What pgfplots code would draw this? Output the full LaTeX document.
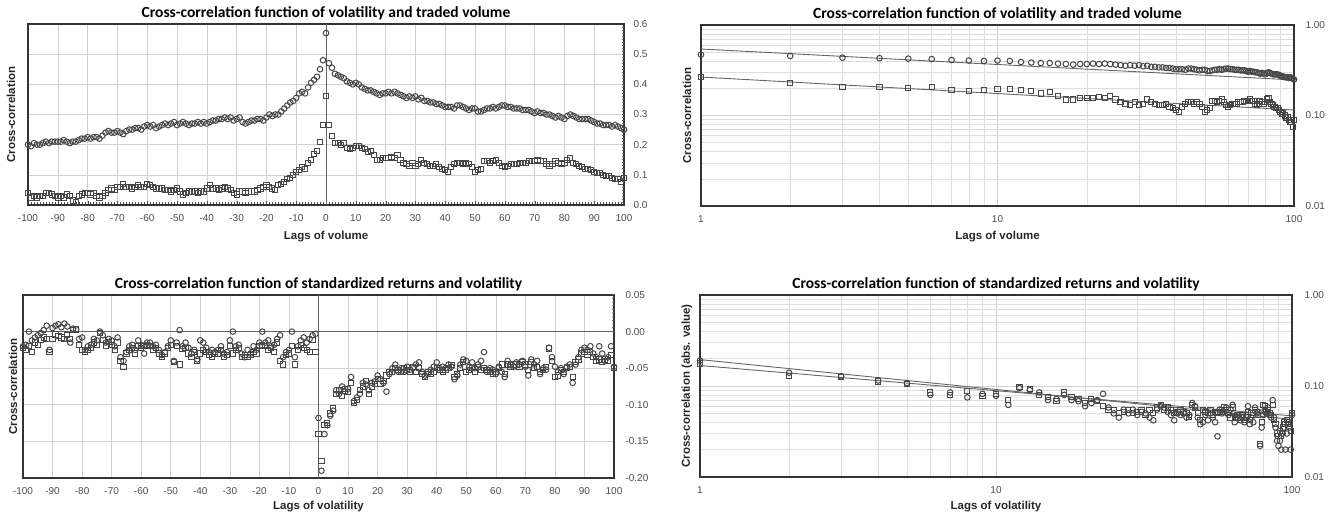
\documentclass[border=0pt]{standalone}
\usepackage{pgfplots}
\pgfplotsset{compat=1.18}
\usepackage{pgfplotstable}
\usepackage{fontspec}
\setmainfont{Liberation Sans}
\newfontfamily\titlefont{Carlito}

% volatility vs traded volume: lag, circles, squares
\pgfplotstableread[row sep=\\]{
lag c s\\
-100 0.200 0.040\\ -99 0.195 0.025\\ -98 0.205 0.030\\ -97 0.200 0.025\\ -96 0.200 0.030\\
-95 0.205 0.030\\ -94 0.210 0.040\\ -93 0.205 0.040\\ -92 0.210 0.035\\ -91 0.210 0.030\\
-90 0.210 0.025\\ -89 0.210 0.030\\ -88 0.215 0.025\\ -87 0.210 0.035\\ -86 0.205 0.030\\
-85 0.210 0.015\\ -84 0.210 0.010\\ -83 0.215 0.030\\ -82 0.220 0.035\\ -81 0.220 0.040\\
-80 0.225 0.040\\ -79 0.220 0.035\\ -78 0.225 0.040\\ -77 0.225 0.030\\ -76 0.220 0.025\\
-75 0.230 0.030\\ -74 0.240 0.040\\ -73 0.245 0.050\\ -72 0.240 0.055\\ -71 0.240 0.050\\
-70 0.245 0.060\\ -69 0.240 0.060\\ -68 0.235 0.070\\ -67 0.245 0.060\\ -66 0.250 0.060\\
-65 0.250 0.055\\ -64 0.255 0.060\\ -63 0.255 0.065\\ -62 0.250 0.060\\ -61 0.260 0.060\\
-60 0.265 0.070\\ -59 0.260 0.065\\ -58 0.265 0.060\\ -57 0.255 0.055\\ -56 0.260 0.055\\
-55 0.265 0.055\\ -54 0.270 0.050\\ -53 0.265 0.050\\ -52 0.270 0.045\\ -51 0.275 0.050\\
-50 0.265 0.055\\ -49 0.270 0.045\\ -48 0.275 0.035\\ -47 0.270 0.040\\ -46 0.265 0.045\\
-45 0.270 0.045\\ -44 0.270 0.045\\ -43 0.275 0.040\\ -42 0.270 0.045\\ -41 0.275 0.045\\
-40 0.270 0.055\\ -39 0.275 0.065\\ -38 0.280 0.055\\ -37 0.280 0.055\\ -36 0.285 0.050\\
-35 0.285 0.055\\ -34 0.290 0.060\\ -33 0.285 0.055\\ -32 0.290 0.050\\ -31 0.280 0.040\\
-30 0.285 0.035\\ -29 0.290 0.045\\ -28 0.275 0.045\\ -27 0.270 0.040\\ -26 0.275 0.045\\
-25 0.280 0.045\\ -24 0.280 0.045\\ -23 0.285 0.050\\ -22 0.285 0.055\\ -21 0.280 0.060\\
-20 0.290 0.065\\ -19 0.300 0.060\\ -18 0.295 0.055\\ -17 0.300 0.050\\ -16 0.300 0.065\\
-15 0.310 0.070\\ -14 0.320 0.075\\ -13 0.330 0.085\\ -12 0.340 0.090\\ -11 0.345 0.100\\
-10 0.355 0.110\\ -9 0.370 0.115\\ -8 0.375 0.125\\ -7 0.370 0.120\\ -6 0.390 0.140\\
-5 0.405 0.150\\ -4 0.415 0.170\\ -3 0.425 0.180\\ -2 0.450 0.210\\ -1 0.480 0.265\\
0 0.570 0.360\\
1 0.470 0.265\\ 2 0.455 0.230\\ 3 0.435 0.205\\ 4 0.430 0.205\\ 5 0.425 0.200\\
6 0.420 0.205\\ 7 0.410 0.190\\ 8 0.405 0.185\\ 9 0.400 0.190\\ 10 0.405 0.195\\
11 0.400 0.195\\ 12 0.390 0.190\\ 13 0.385 0.185\\ 14 0.380 0.175\\ 15 0.380 0.180\\
16 0.375 0.165\\ 17 0.370 0.150\\ 18 0.365 0.150\\ 19 0.370 0.155\\ 20 0.370 0.155\\
21 0.375 0.155\\ 22 0.370 0.160\\ 23 0.375 0.155\\ 24 0.370 0.165\\ 25 0.365 0.150\\
26 0.360 0.140\\ 27 0.355 0.135\\ 28 0.360 0.130\\ 29 0.355 0.140\\ 30 0.360 0.130\\
31 0.350 0.135\\ 32 0.355 0.150\\ 33 0.345 0.140\\ 34 0.345 0.135\\ 35 0.340 0.130\\
36 0.340 0.130\\ 37 0.335 0.135\\ 38 0.335 0.125\\ 39 0.330 0.120\\ 40 0.325 0.115\\
41 0.325 0.110\\ 42 0.325 0.125\\ 43 0.320 0.135\\ 44 0.330 0.140\\ 45 0.330 0.140\\
46 0.325 0.135\\ 47 0.320 0.140\\ 48 0.315 0.135\\ 49 0.320 0.125\\ 50 0.320 0.110\\
51 0.310 0.115\\ 52 0.310 0.120\\ 53 0.315 0.145\\ 54 0.320 0.145\\ 55 0.320 0.140\\
56 0.325 0.145\\ 57 0.320 0.150\\ 58 0.325 0.140\\ 59 0.330 0.130\\ 60 0.330 0.125\\
61 0.325 0.130\\ 62 0.325 0.135\\ 63 0.320 0.135\\ 64 0.320 0.135\\ 65 0.320 0.140\\
66 0.315 0.140\\ 67 0.315 0.140\\ 68 0.315 0.145\\ 69 0.310 0.145\\ 70 0.305 0.145\\
71 0.310 0.150\\ 72 0.305 0.145\\ 73 0.305 0.145\\ 74 0.300 0.135\\ 75 0.300 0.130\\
76 0.295 0.135\\ 77 0.290 0.145\\ 78 0.295 0.140\\ 79 0.290 0.135\\ 80 0.285 0.140\\
81 0.295 0.150\\ 82 0.300 0.155\\ 83 0.295 0.140\\ 84 0.290 0.135\\ 85 0.285 0.130\\
86 0.285 0.125\\ 87 0.285 0.120\\ 88 0.285 0.120\\ 89 0.280 0.115\\ 90 0.275 0.110\\
91 0.270 0.105\\ 92 0.270 0.105\\ 93 0.265 0.100\\ 94 0.265 0.095\\ 95 0.265 0.095\\
96 0.260 0.090\\ 97 0.265 0.085\\ 98 0.260 0.085\\ 99 0.255 0.075\\ 100 0.250 0.090\\
}\volA

% standardized returns vs volatility: lag, circles, squares
\pgfplotstableread[row sep=\\]{
lag c s\\
-100 -0.020 -0.022\\ -99 -0.018 -0.025\\ -98 0.000 -0.020\\ -97 -0.012 -0.028\\ -96 -0.008 -0.015\\
-95 -0.005 -0.018\\ -94 -0.002 -0.012\\ -93 0.002 -0.008\\ -92 0.008 -0.010\\ -91 -0.025 -0.028\\
-90 0.005 -0.010\\ -89 0.008 -0.004\\ -88 0.010 -0.006\\ -87 0.006 -0.008\\ -86 0.011 -0.010\\
-85 0.007 -0.005\\ -84 -0.015 -0.010\\ -83 0.004 0.002\\ -82 0.003 0.003\\ -81 -0.010 -0.018\\
-80 -0.008 -0.025\\ -79 -0.025 -0.028\\ -78 -0.020 -0.025\\ -77 -0.018 -0.022\\ -76 -0.010 -0.015\\
-75 -0.012 -0.018\\ -74 0.000 -0.002\\ -73 -0.005 -0.012\\ -72 -0.015 -0.020\\ -71 -0.010 -0.014\\
-70 -0.012 -0.018\\ -69 -0.020 -0.025\\ -68 -0.008 -0.015\\ -67 -0.035 -0.040\\ -66 -0.040 -0.048\\
-65 -0.028 -0.030\\ -64 -0.020 -0.025\\ -63 -0.018 -0.022\\ -62 -0.025 -0.030\\ -61 -0.012 -0.020\\
-60 -0.018 -0.022\\ -59 -0.030 -0.020\\ -58 -0.015 -0.018\\ -57 -0.015 -0.020\\ -56 -0.020 -0.025\\
-55 -0.018 -0.022\\ -54 -0.025 -0.030\\ -53 -0.032 -0.035\\ -52 -0.028 -0.030\\ -51 -0.020 -0.022\\
-50 -0.012 -0.018\\ -49 -0.040 -0.042\\ -48 -0.015 -0.020\\ -47 0.002 -0.045\\ -46 -0.020 -0.024\\
-45 -0.015 -0.022\\ -44 -0.022 -0.030\\ -43 -0.030 -0.035\\ -42 -0.025 -0.028\\ -41 -0.038 -0.040\\
-40 -0.012 -0.030\\ -39 -0.015 -0.025\\ -38 -0.022 -0.028\\ -37 -0.028 -0.032\\ -36 -0.025 -0.035\\
-35 -0.028 -0.030\\ -34 -0.025 -0.030\\ -33 -0.020 -0.025\\ -32 -0.030 -0.035\\ -31 -0.028 -0.032\\
-30 -0.012 -0.020\\ -29 0.000 -0.030\\ -28 -0.020 -0.025\\ -27 -0.018 -0.022\\ -26 -0.030 -0.035\\
-25 -0.035 -0.032\\ -24 -0.025 -0.035\\ -23 -0.030 -0.032\\ -22 -0.020 -0.028\\ -21 -0.025 -0.030\\
-20 -0.015 -0.020\\ -19 0.000 -0.018\\ -18 -0.015 -0.020\\ -17 -0.012 -0.025\\ -16 -0.020 -0.022\\
-15 -0.018 -0.028\\ -14 -0.010 -0.015\\ -13 -0.005 -0.040\\ -12 -0.035 -0.045\\ -11 -0.028 -0.032\\
-10 -0.025 -0.030\\ -9 0.000 -0.020\\ -8 -0.035 -0.045\\ -7 -0.020 -0.025\\ -6 -0.012 -0.018\\
-5 -0.008 -0.022\\ -4 -0.015 -0.025\\ -3 -0.010 -0.028\\ -2 -0.005 -0.012\\ -1 -0.003 -0.028\\
0 -0.118 -0.140\\
1 -0.190 -0.177\\ 2 -0.140 -0.128\\ 3 -0.128 -0.125\\ 4 -0.115 -0.112\\ 5 -0.108 -0.105\\
6 -0.080 -0.085\\ 7 -0.085 -0.080\\ 8 -0.075 -0.088\\ 9 -0.082 -0.078\\ 10 -0.078 -0.082\\
11 -0.062 -0.070\\ 12 -0.095 -0.098\\ 13 -0.090 -0.093\\ 14 -0.085 -0.080\\ 15 -0.070 -0.075\\
16 -0.072 -0.068\\ 17 -0.080 -0.085\\ 18 -0.070 -0.075\\ 19 -0.068 -0.072\\ 20 -0.060 -0.065\\
21 -0.065 -0.072\\ 22 -0.070 -0.068\\ 23 -0.082 -0.060\\ 24 -0.058 -0.055\\ 25 -0.050 -0.055\\
26 -0.045 -0.050\\ 27 -0.055 -0.052\\ 28 -0.050 -0.055\\ 29 -0.055 -0.050\\ 30 -0.048 -0.052\\
31 -0.052 -0.055\\ 32 -0.050 -0.048\\ 33 -0.045 -0.055\\ 34 -0.042 -0.050\\ 35 -0.055 -0.058\\
36 -0.060 -0.062\\ 37 -0.058 -0.055\\ 38 -0.052 -0.058\\ 39 -0.048 -0.055\\ 40 -0.042 -0.050\\
41 -0.050 -0.052\\ 42 -0.048 -0.055\\ 43 -0.050 -0.052\\ 44 -0.045 -0.050\\ 45 -0.048 -0.046\\
46 -0.065 -0.062\\ 47 -0.060 -0.058\\ 48 -0.045 -0.050\\ 49 -0.038 -0.042\\ 50 -0.040 -0.055\\
51 -0.048 -0.052\\ 52 -0.042 -0.050\\ 53 -0.050 -0.055\\ 54 -0.045 -0.048\\ 55 -0.040 -0.052\\
56 -0.028 -0.050\\ 57 -0.055 -0.052\\ 58 -0.050 -0.055\\ 59 -0.052 -0.058\\ 60 -0.058 -0.055\\
61 -0.048 -0.050\\ 62 -0.055 -0.045\\ 63 -0.062 -0.058\\ 64 -0.040 -0.045\\ 65 -0.045 -0.048\\
66 -0.048 -0.045\\ 67 -0.042 -0.045\\ 68 -0.045 -0.048\\ 69 -0.040 -0.042\\ 70 -0.048 -0.045\\
71 -0.060 -0.052\\ 72 -0.038 -0.042\\ 73 -0.045 -0.050\\ 74 -0.040 -0.048\\ 75 -0.058 -0.055\\
76 -0.050 -0.052\\ 77 -0.052 -0.048\\ 78 -0.022 -0.023\\ 79 -0.035 -0.040\\ 80 -0.048 -0.062\\
81 -0.055 -0.060\\ 82 -0.050 -0.052\\ 83 -0.058 -0.055\\ 84 -0.048 -0.050\\ 85 -0.045 -0.048\\
86 -0.070 -0.062\\ 87 -0.045 -0.042\\ 88 -0.035 -0.038\\ 89 -0.025 -0.030\\ 90 -0.022 -0.028\\
91 -0.025 -0.032\\ 92 -0.020 -0.028\\ 93 -0.030 -0.035\\ 94 -0.035 -0.040\\ 95 -0.020 -0.038\\
96 -0.030 -0.042\\ 97 -0.040 -0.038\\ 98 -0.035 -0.040\\ 99 -0.020 -0.032\\ 100 -0.048 -0.050\\
}\retA

\pgfplotsset{
  panel/.style={
    scale only axis,
    axis line style={black!80, line width=1.2pt},
    tick label style={font=\fontsize{10}{12}\selectfont, text=black!70},
    /pgf/number format/assume math mode=true,
    yticklabel pos=right,
    ytick style={draw=none},
    major grid style={black!18, line width=0.6pt},
    minor grid style={black!13, line width=0.5pt},
    title style={font=\titlefont\bfseries\fontsize{15.5}{17}\selectfont,
      at={(axis description cs:0.5,1)}, anchor=center, yshift=5pt},
    label style={font=\bfseries\fontsize{11.5}{13}\selectfont, text=black!85},
    xticklabel style={anchor=center, yshift=-13.5pt},
    yticklabel style={anchor=west, xshift=6pt},
  },
  circ/.style={only marks, mark=o, mark size=2.8pt, color=black!72, mark options={line width=1pt}},
  sq/.style={only marks, mark=square, mark size=2.6pt, color=black!72, mark options={line width=1pt}},
  fit/.style={black!60, line width=0.9pt, no marks},
}

\begin{document}
\begin{tikzpicture}
\path[use as bounding box] (0,0) rectangle (1337pt,519pt);

% ---------- Panel 1 ----------
\begin{axis}[panel,
  at={(28pt,314pt)}, anchor=south west, width=596pt, height=181pt,
  xmin=-100, xmax=100, ymin=0, ymax=0.6,
  xtick={-100,-90,...,100}, ytick={0,0.1,...,0.6},
  yticklabel style={/pgf/number format/fixed, /pgf/number format/fixed zerofill, /pgf/number format/precision=1},
  grid=major, xtick pos=bottom, tick align=inside,
  minor x tick num=9, major tick length=4pt, minor tick length=3pt,
  xtick style={black!70},
  title={Cross-correlation function of volatility and traded volume},
  xlabel={Lags of volume}, ylabel={Cross-correlation},
  xlabel style={at={(axis description cs:0.5,0)}, anchor=center, yshift=-32pt},
  ylabel style={at={(axis description cs:-0.0285,0.5)}, anchor=center},
]
\draw[black!60, line width=0.8pt] (axis cs:0,0) -- (axis cs:0,0.6);
\pgfplotsinvokeforeach{1,...,59}{\draw[black!60, line width=0.6pt] (axis cs:0,#1*0.01) ++(-2pt,0) -- ++(4pt,0);}
\addplot[sq] table[x=lag, y=s] {\volA};
\addplot[circ] table[x=lag, y=c] {\volA};
\end{axis}

% ---------- Panel 2 ----------
\begin{axis}[panel,
  at={(701pt,313pt)}, anchor=south west, width=593pt, height=181pt,
  xmode=log, ymode=log,
  xmin=1, xmax=100, ymin=0.01, ymax=1,
  xtick={1,10,100}, xticklabels={1,10,100},
  ytick={0.01,0.1,1}, yticklabels={0.01,0.10,1.00},
  grid=both, tick style={draw=none},
  yticklabel style={xshift=2pt},
  title={Cross-correlation function of volatility and traded volume},
  xlabel={Lags of volume}, ylabel={Cross-correlation},
  xlabel style={at={(axis description cs:0.5,0)}, anchor=center, yshift=-31pt},
  ylabel style={at={(axis description cs:-0.0236,0.5)}, anchor=center},
]
\addplot[fit] coordinates {(1,0.543) (100,0.247)};
\addplot[fit] coordinates {(1,0.266) (100,0.115)};
\addplot[sq, skip coords between index={0}{101}] table[x=lag, y=s] {\volA};
\addplot[circ, skip coords between index={0}{101}] table[x=lag, y=c] {\volA};
\end{axis}

% ---------- Panel 3 ----------
\begin{axis}[panel,
  at={(23pt,41pt)}, anchor=south west, width=591pt, height=183pt,
  xmin=-100, xmax=100, ymin=-0.2, ymax=0.05,
  xtick={-100,-90,...,100}, ytick={-0.2,-0.15,...,0.05},
  yticklabel style={/pgf/number format/fixed, /pgf/number format/fixed zerofill, /pgf/number format/precision=2},
  grid=major, tick style={draw=none},
  title={Cross-correlation function of standardized returns and volatility},
  xlabel={Lags of volatility}, ylabel={Cross-correlation},
  xlabel style={at={(axis description cs:0.5,0)}, anchor=center, yshift=-29pt},
  ylabel style={at={(axis description cs:-0.0169,0.5)}, anchor=center},
  yticklabel style={xshift=2pt},
]
\draw[black!60, line width=0.8pt] (axis cs:-100,0) -- (axis cs:100,0);
\pgfplotsinvokeforeach{-99,...,99}{\draw[black!60, line width=0.6pt] (axis cs:#1,0) ++(0,-2pt) -- ++(0,4pt);}
\draw[black!60, line width=0.8pt] (axis cs:0,-0.2) -- (axis cs:0,0.05);
\pgfplotsinvokeforeach{-39,...,9}{\draw[black!60, line width=0.6pt] (axis cs:0,#1*0.005) ++(-2pt,0) -- ++(4pt,0);}
\addplot[sq] table[x=lag, y=s] {\retA};
\addplot[circ] table[x=lag, y=c] {\retA};
\end{axis}

% ---------- Panel 4 ----------
\begin{axis}[panel,
  at={(700pt,42pt)}, anchor=south west, width=592pt, height=182pt,
  xmode=log, ymode=log,
  xmin=1, xmax=100, ymin=0.01, ymax=1,
  xtick={1,10,100}, xticklabels={1,10,100},
  ytick={0.01,0.1,1}, yticklabels={0.01,0.10,1.00},
  grid=both, tick style={draw=none},
  yticklabel style={xshift=3pt},
  title={Cross-correlation function of standardized returns and volatility},
  xlabel={Lags of volatility}, ylabel={Cross-correlation (abs. value)},
  xlabel style={at={(axis description cs:0.5,0)}, anchor=center, yshift=-30pt},
  ylabel style={at={(axis description cs:-0.022,0.5)}, anchor=center},
]
\addplot[fit] coordinates {(1,0.195) (100,0.043)};
\addplot[fit] coordinates {(1,0.168) (100,0.047)};
\addplot[sq, skip coords between index={0}{101}] table[x=lag, y expr={-\thisrow{s}}] {\retA};
\addplot[circ, skip coords between index={0}{101}] table[x=lag, y expr={-\thisrow{c}}] {\retA};
\end{axis}
\end{tikzpicture}
\end{document}
